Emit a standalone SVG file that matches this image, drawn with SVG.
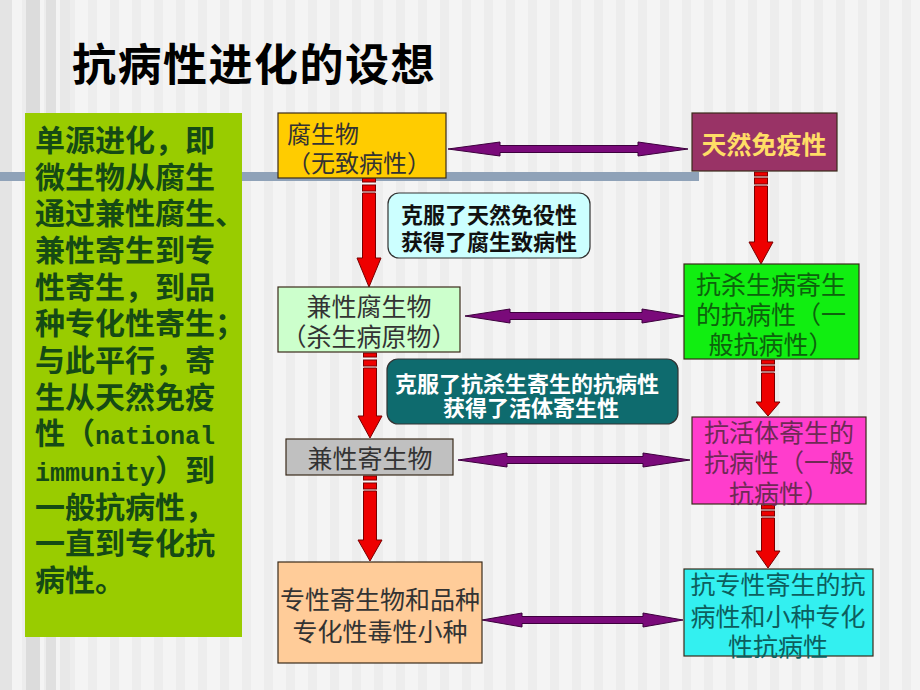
<svg xmlns="http://www.w3.org/2000/svg" width="920" height="690" viewBox="0 0 920 690">
<defs>
<pattern id="stripes" x="0" y="0" width="22" height="690" patternUnits="userSpaceOnUse">
<rect x="0" y="0" width="22" height="690" fill="#f4f4f4"/>
<rect x="0" y="0" width="9" height="690" fill="#ededed"/>
</pattern>
<style>
.cjk{font-family:"Noto Sans CJK SC","Noto Sans",sans-serif;}
.node{stroke:#3a2a1a;stroke-width:1.2;}
.ntext{font-size:25px;text-anchor:middle;}
.call{stroke:#333333;stroke-width:1.2;}
.ctext{font-size:22px;font-weight:bold;text-anchor:middle;}
.red{fill:#ee0000;stroke:#7a0000;stroke-width:1;}
.purple{fill:#7a0a7a;stroke:#3d003d;stroke-width:1;}
.left{font-size:30px;font-weight:bold;fill:#154a15;}
.mono{font-family:"Liberation Mono",monospace;font-size:25px;font-weight:bold;}
</style>
</defs>
<g id="background">
<rect width="920" height="690" fill="url(#stripes)"/>
<rect x="0" y="0" width="12" height="690" fill="#e4e4e4"/>
<rect x="26" y="0" width="14" height="690" fill="#dcdcdc"/>
<rect x="46" y="0" width="10" height="690" fill="#e0e0e0"/>
<rect x="60" y="0" width="10" height="690" fill="#e8e8e8"/>
<rect x="0" y="172" width="699" height="9" fill="#8fa2b8"/>
</g>
<g id="title">
<text class="cjk" x="72" y="81" font-size="44" font-weight="bold" letter-spacing="1.5" fill="#000000">抗病性进化的设想</text>
</g>
<g id="summary">
<rect x="25" y="113" width="217" height="524" fill="#99cc00"/>
<text class="cjk left" x="35" y="151">单源进化，即</text>
<text class="cjk left" x="35" y="187.7">微生物从腐生</text>
<text class="cjk left" x="35" y="224.3">通过兼性腐生、</text>
<text class="cjk left" x="35" y="261">兼性寄生到专</text>
<text class="cjk left" x="35" y="297.7">性寄生，到品</text>
<text class="cjk left" x="35" y="334.3">种专化性寄生；</text>
<text class="cjk left" x="35" y="371">与此平行，寄</text>
<text class="cjk left" x="35" y="407.7">生从天然免疫</text>
<text class="cjk left" x="35" y="444.3">性（<tspan class="mono">national</tspan></text>
<text class="cjk left" x="35" y="481"><tspan class="mono">immunity</tspan>）到</text>
<text class="cjk left" x="35" y="517.7">一般抗病性，</text>
<text class="cjk left" x="35" y="554.3">一直到专化抗</text>
<text class="cjk left" x="35" y="591">病性。</text>
</g>
<g id="connectors">
<g id="red-arrows">
<rect class="red" x="362.5" y="178" width="13" height="4"/>
<rect class="red" x="362.5" y="185" width="13" height="6"/>
<polygon class="red" points="362.5,193 375.5,193 375.5,258 381,258 369,287 357,258 362.5,258"/>
<rect class="red" x="363.5" y="353" width="13" height="4"/>
<rect class="red" x="363.5" y="360" width="13" height="6"/>
<polygon class="red" points="363.5,368 376.5,368 376.5,416 382,416 370,438 358,416 363.5,416"/>
<rect class="red" x="363.5" y="476" width="13" height="4"/>
<rect class="red" x="363.5" y="483" width="13" height="6"/>
<polygon class="red" points="363.5,491 376.5,491 376.5,540 382,540 370,561 358,540 363.5,540"/>
<rect class="red" x="754.5" y="172" width="13" height="4"/>
<rect class="red" x="754.5" y="178" width="13" height="6"/>
<polygon class="red" points="754.5,186 767.5,186 767.5,242 773,242 761,264 749,242 754.5,242"/>
<rect class="red" x="761.5" y="360" width="13" height="4"/>
<rect class="red" x="761.5" y="366" width="13" height="5"/>
<polygon class="red" points="761.5,373 774.5,373 774.5,402 780,402 768,416 756,402 761.5,402"/>
<rect class="red" x="761.5" y="505" width="13" height="4"/>
<rect class="red" x="761.5" y="511" width="13" height="5"/>
<polygon class="red" points="761.5,518 774.5,518 774.5,551 780,551 768,568 756,551 761.5,551"/>
</g>
<g id="purple-arrows">
<polygon class="purple" points="448,149 500,142 500,145.5 638,145.5 638,142 688,149 638,156 638,152.5 500,152.5 500,156"/>
<polygon class="purple" points="465,316 510,309 510,312.5 642,312.5 642,309 685,316 642,323 642,319.5 510,319.5 510,323"/>
<polygon class="purple" points="458,460 507,453 507,456.5 643,456.5 643,453 690,460 643,467 643,463.5 507,463.5 507,467"/>
<polygon class="purple" points="482,620 522,613 522,616.5 643,616.5 643,613 683,620 643,627 643,623.5 522,623.5 522,627"/>
</g>
</g>
<g id="node-saprophyte">
<rect class="node" x="278" y="113" width="168" height="65" fill="#ffcc00"/>
<text class="cjk" x="287" y="143" font-size="24" fill="#333333">腐生物</text>
<text class="cjk" x="287" y="172" font-size="24" fill="#333333">（无致病性）</text>
</g>
<g id="node-natural-immunity">
<rect class="node" x="692" y="113" width="145" height="58" fill="#993366"/>
<text class="cjk ntext" x="764" y="154" font-weight="bold" fill="#ffdd66">天然免疫性</text>
</g>
<g id="callout-1">
<rect class="call" x="388" y="193" width="202" height="65" rx="11" fill="#ccffff"/>
<text class="cjk ctext" x="489" y="223" fill="#111111">克服了天然免役性</text>
<text class="cjk ctext" x="489" y="250" fill="#111111">获得了腐生致病性</text>
</g>
<g id="node-facultative-saprophyte">
<rect class="node" x="278" y="287" width="182" height="65" fill="#ccffcc"/>
<text class="cjk ntext" x="369" y="316" fill="#333333">兼性腐生物</text>
<text class="cjk ntext" x="369" y="346" fill="#333333">（杀生病原物）</text>
</g>
<g id="node-general-resistance-1">
<rect class="node" x="684" y="264" width="175" height="95" fill="#11ee11"/>
<text class="cjk ntext" x="771" y="294" fill="#0d620d">抗杀生病寄生</text>
<text class="cjk ntext" x="771" y="324" fill="#0d620d">的抗病性（一</text>
<text class="cjk ntext" x="771" y="354" fill="#0d620d">般抗病性）</text>
</g>
<g id="callout-2">
<rect class="call" x="387" y="359" width="291" height="65" rx="11" fill="#0e6b6e"/>
<text class="cjk ctext" x="527" y="392" fill="#ffffff">克服了抗杀生寄生的抗病性</text>
<text class="cjk ctext" x="531" y="416" fill="#ffffff">获得了活体寄生性</text>
</g>
<g id="node-facultative-parasite">
<rect class="node" x="286" y="439" width="167" height="36" fill="#c0c0c0"/>
<text class="cjk ntext" x="370" y="468" fill="#333333">兼性寄生物</text>
</g>
<g id="node-general-resistance-2">
<rect class="node" x="692" y="417" width="174" height="87" fill="#ff3dcc"/>
<text class="cjk ntext" x="779" y="442" fill="#6e2a55">抗活体寄生的</text>
<text class="cjk ntext" x="779" y="472" fill="#6e2a55">抗病性（一般</text>
<text class="cjk ntext" x="779" y="503" fill="#6e2a55">抗病性）</text>
</g>
<g id="node-obligate-parasite">
<rect class="node" x="278" y="562" width="204" height="101" fill="#ffcc99"/>
<text class="cjk ntext" x="380" y="609" fill="#333333">专性寄生物和品种</text>
<text class="cjk ntext" x="380" y="641" fill="#333333">专化性毒性小种</text>
</g>
<g id="node-specific-resistance">
<rect class="node" x="684" y="569" width="189" height="87" fill="#33f0f0"/>
<text class="cjk ntext" x="778" y="594" fill="#0d5e5e">抗专性寄生的抗</text>
<text class="cjk ntext" x="778" y="626" fill="#0d5e5e">病性和小种专化</text>
<text class="cjk ntext" x="778" y="656" fill="#0d5e5e">性抗病性</text>
</g>
</svg>
